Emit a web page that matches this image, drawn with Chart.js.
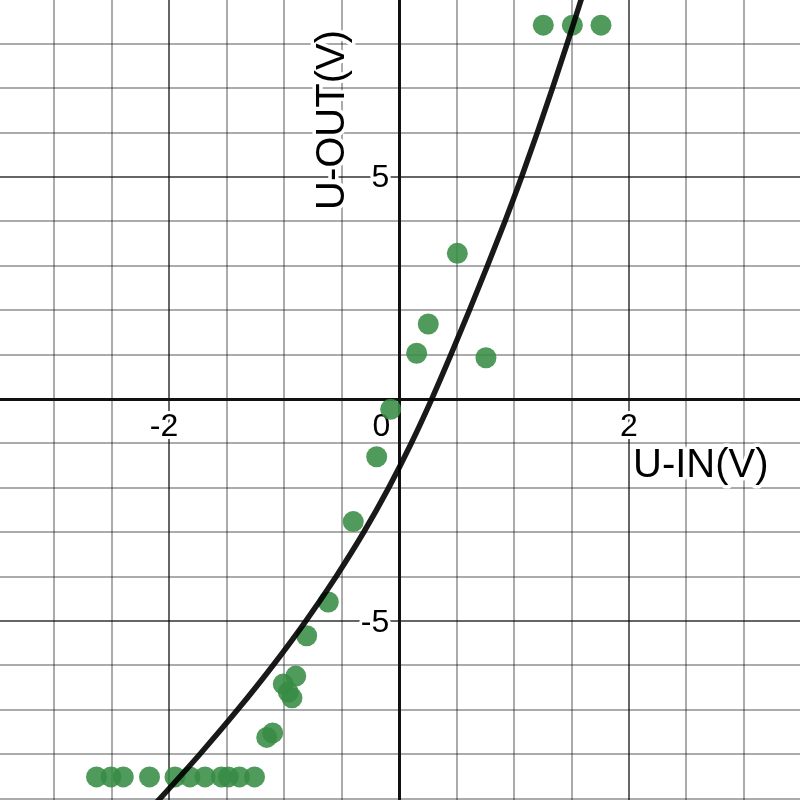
<!DOCTYPE html>
<html>
<head>
<meta charset="utf-8">
<script src="https://cdn.jsdelivr.net/npm/chart.js@4"></script>
<style>
  html, body { margin: 0; padding: 0; background: #ffffff; }
  #wrap { width: 800px; height: 800px; }
</style>
</head>
<body>
<div id="wrap"><canvas id="c" width="800" height="800"></canvas></div>
<script>
// ---- data ----
const pointX = [1.254, 1.507, 1.756, 0.506, 0.253, 0.152, 0.755, -0.074, -0.196, -0.40,
                -0.617, -0.805, -0.90, -1.009, -0.965, -0.933, -1.101, -1.153,
                -2.634, -2.508, -2.401, -2.173, -1.951, -1.821, -1.690, -1.547, -1.487, -1.390, -1.259];
const pointY = [8.42, 8.42, 8.42, 3.28, 1.69, 1.03, 0.93, -0.23, -1.30, -2.76,
                -4.57, -5.33, -6.24, -6.42, -6.60, -6.73, -7.52, -7.62,
                -8.51, -8.51, -8.51, -8.51, -8.51, -8.51, -8.51, -8.51, -8.51, -8.51, -8.51];
const curveX = [-2.225, -2.082, -1.735, -1.407, -1.099, -0.813, -0.550, -0.309, -0.092, 0.104,
                0.283, 0.450, 0.611, 0.768, 0.920, 1.065, 1.202, 1.334, 1.461, 1.584, 1.633];
const curveY = [-9.4, -9, -8, -7, -6, -5, -4, -3, -2, -1,
                0, 1, 2, 3, 4, 5, 6, 7, 8, 9, 9.4];
const xTickValues = [-2, 0, 2];
const xTickLabels = ['-2', '0', '2'];
const yTickValues = [5, -5];
const yTickLabels = ['5', '-5'];
const xTitle = 'U-IN(V)';
const yTitle = 'U-OUT(V)';
const xRange = [-3.474, 3.488];
const yRange = [-9.03, 8.986];

// ---- styling ----
const FONT = '"Liberation Sans", Arial, Helvetica, sans-serif';
const MINOR = 'rgba(0,0,0,0.33)';
const MAJOR = 'rgba(0,0,0,0.6)';

function gridColor(step) {
  return (c) => {
    if (!c.tick) return 'transparent';
    const v = c.tick.value;
    const r = Math.abs(v / step - Math.round(v / step));
    return r < 1e-6 ? MAJOR : MINOR;
  };
}

const labelPlugin = {
  id: 'desmosLabels',
  beforeDatasetsDraw(chart) {
    const { ctx, scales } = chart;
    const xs = scales.x, ys = scales.y;
    const x0 = xs.getPixelForValue(0);
    const y0 = ys.getPixelForValue(0);
    ctx.save();
    ctx.lineJoin = 'round';
    ctx.strokeStyle = '#ffffff';
    ctx.fillStyle = '#000000';

    function put(text, px, py, align) {
      ctx.textAlign = align;
      ctx.textBaseline = 'alphabetic';
      ctx.strokeText(text, px, py);
      ctx.fillText(text, px, py);
    }

    // tick labels
    ctx.font = '32px ' + FONT;
    ctx.lineWidth = 6;
    xTickValues.forEach((v, i) => {
      const label = xTickLabels[i];
      const base = y0 + 37;
      if (v === 0) {
        put(label, x0 - 9, base, 'right');
        return;
      }
      const px = xs.getPixelForValue(v);
      const digits = label.replace('-', '');
      const wDigits = ctx.measureText(digits).width;
      const wFull = ctx.measureText(label).width;
      put(label, px + wDigits / 2 - wFull, base, 'left');
    });
    yTickValues.forEach((v, i) => {
      const py = ys.getPixelForValue(v);
      put(yTickLabels[i], x0 - 10, py + 10.5, 'right');
    });

    // axis titles
    ctx.font = '40px ' + FONT;
    ctx.lineWidth = 7;
    put(xTitle, xs.getPixelForValue(2) + 4, y0 + 78, 'left');

    ctx.save();
    ctx.translate(x0 - 55, ys.getPixelForValue(5) + 33);
    ctx.rotate(-Math.PI / 2);
    put(yTitle, 0, 0, 'left');
    ctx.restore();

    ctx.restore();
  }
};

const curveData = curveX.map((x, i) => ({ x, y: curveY[i] }));
const pointData = pointX.map((x, i) => ({ x, y: pointY[i] }));

new Chart(document.getElementById('c'), {
  type: 'scatter',
  data: {
    datasets: [
      {
        label: 'fit',
        data: curveData,
        showLine: true,
        pointRadius: 0,
        borderColor: 'rgba(0,0,0,0.9)',
        borderWidth: 5.5,
        cubicInterpolationMode: 'monotone',
        fill: false,
        order: 0
      },
      {
        label: 'measured',
        data: pointData,
        pointRadius: 10.5,
        pointBackgroundColor: 'rgba(56,140,70,0.88)',
        pointBorderWidth: 0,
        borderWidth: 0,
        order: 1
      }
    ]
  },
  options: {
    responsive: false,
    animation: false,
    events: [],
    layout: { padding: 0, autoPadding: false },
    plugins: { legend: { display: false }, tooltip: { enabled: false } },
    scales: {
      x: {
        type: 'linear',
        position: { y: 0 },
        min: xRange[0],
        max: xRange[1],
        ticks: { display: false, stepSize: 0.5, includeBounds: false },
        grid: { drawTicks: false, color: gridColor(2), lineWidth: 2 },
        border: { display: true, color: '#111111', width: 3 }
      },
      y: {
        type: 'linear',
        position: { x: 0 },
        min: yRange[0],
        max: yRange[1],
        ticks: { display: false, stepSize: 1, includeBounds: false },
        grid: { drawTicks: false, color: gridColor(5), lineWidth: 2 },
        border: { display: true, color: '#111111', width: 3 }
      }
    }
  },
  plugins: [labelPlugin]
});
</script>
</body>
</html>
